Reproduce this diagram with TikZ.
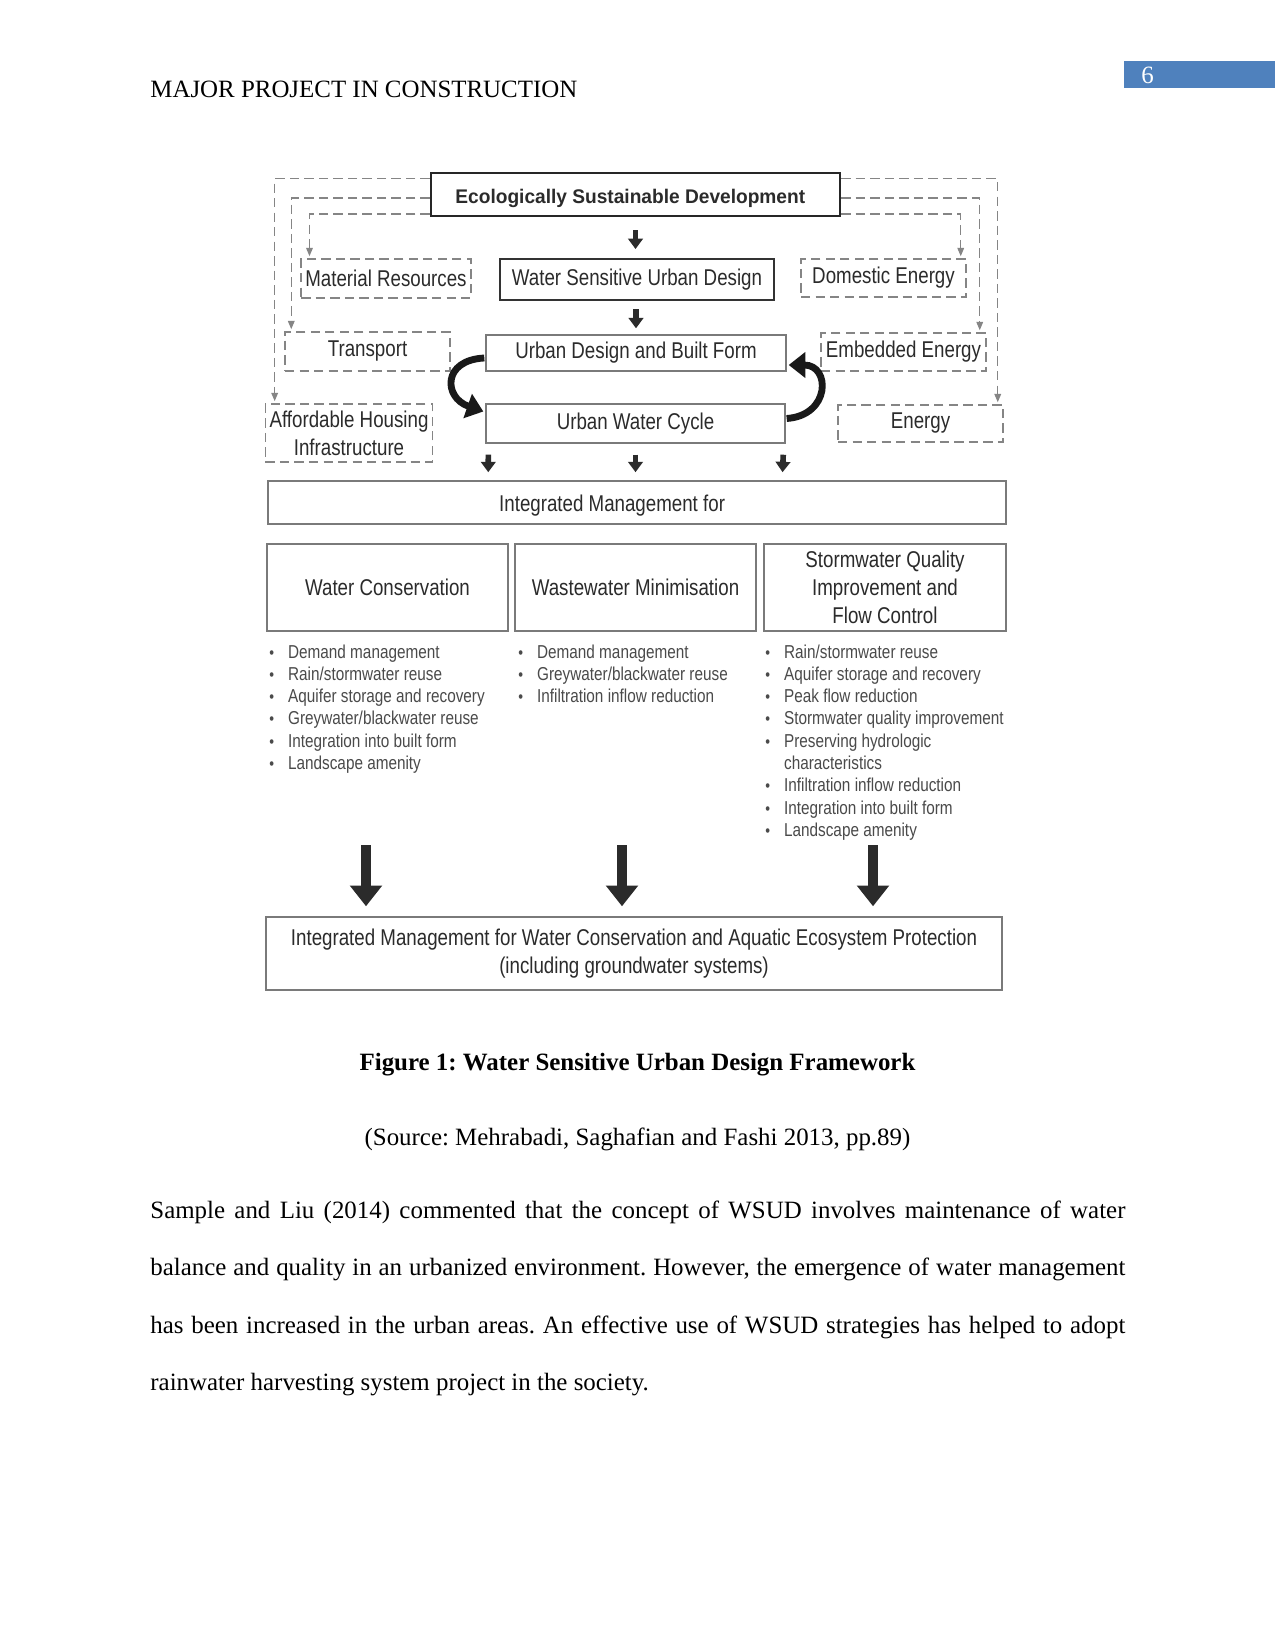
\documentclass[tikz,border=0pt]{standalone}
\usepackage{fontspec}
\setmainfont{Liberation Serif}
\newfontfamily\diagfont[FakeStretch=0.82]{Liberation Sans}
\newfontfamily\esdfont[FakeStretch=0.97]{Liberation Sans}
\usetikzlibrary{arrows.meta,calc}
\definecolor{hdrblue}{HTML}{4F81BD}
\definecolor{txt}{HTML}{2B2B2B}
\definecolor{txt2}{HTML}{4A4A4A}
\definecolor{edge}{HTML}{7A7A7A}
\definecolor{dashc}{HTML}{858585}
\newcommand{\bul}{{\fontsize{8}{8}\selectfont\textbullet}}

\begin{document}
\begin{tikzpicture}[
  x=0.4818pt, y=-0.4818pt,
  box/.style={draw=edge, line width=0.7pt, fill=white, align=center, inner sep=2pt, text=txt, font=\diagfont\fontsize{11}{13.5}\selectfont},
  dbox/.style={box, draw=dashc, dash pattern=on 4.5pt off 2.5pt},
  dline/.style={draw=dashc, line width=0.6pt, dash pattern=on 4.5pt off 2.5pt, -{Triangle[width=3.2pt,length=4pt]}, shorten >=1pt},
  smallarr/.style={draw=txt, line width=2.7pt, -{Triangle[width=7pt,length=5pt]}},
  bigarr/.style={draw=txt, line width=4.4pt, -{Triangle[width=15pt,length=10pt]}},
  cyclearr/.style={draw=black!90, line width=3.3pt, -{Triangle[width=12pt,length=8pt]}},
  blist/.style={anchor=north west, inner sep=0pt, text=txt2, font=\diagfont\fontsize{9}{10.75}\selectfont},
  page/.style={inner sep=0pt, font=\fontsize{12}{14}\selectfont},
]

\useasboundingbox[fill=white] (0,0) rectangle (1275,1650);

% page header
\node[page, anchor=base west] (hdr) at (150,98) {MAJOR PROJECT IN CONSTRUCTION};
\fill[hdrblue] (1124,61) rectangle (1275,88);
\node[page, anchor=base west, text=white] (pgno) at (1141,84) {6};

% top of the framework
\node[box, draw=black!85, line width=1.1pt, minimum width=197.1pt, minimum height=20.7pt, text height=10pt, text depth=1pt, font=\esdfont\bfseries\fontsize{9.5}{11}\selectfont] (esd) at (635.5,194.5) {\hspace*{-5pt}Ecologically Sustainable Development};
\node[box, draw=black!80, line width=1pt, minimum width=132pt, minimum height=19.75pt] (wsud) at (637,279.5) {Water Sensitive Urban Design};
\node[box, minimum width=144.5pt, minimum height=17.3pt] (udbf) at (636,353) {Urban Design and Built Form};
\node[box, minimum width=144pt, minimum height=18.8pt] (uwc) at (635.5,423.5) {Urban Water Cycle};

\node[dbox, minimum width=80pt, minimum height=18.8pt] (matres) at (386,278.5) {Material Resources};
\node[dbox, minimum width=79.5pt, minimum height=18.8pt] (transport) at (367.5,351.5) {Transport};
\node[dbox, minimum width=80pt, minimum height=28pt] (afford) at (349,433) {Affordable Housing\\Infrastructure};
\node[dbox, minimum width=79.5pt, minimum height=18.3pt] (domen) at (883.5,278) {Domestic Energy};
\node[dbox, minimum width=79.5pt, minimum height=18.3pt] (embed) at (903.5,352) {Embedded Energy};
\node[dbox, minimum width=79.5pt, minimum height=17.8pt] (energy) at (920.5,423.5) {Energy};

% integrated management
\node[box, minimum width=355.6pt, minimum height=20.7pt, text height=10.5pt, text depth=1.5pt] (imf) at (637,502.5) {\hspace*{-24pt}Integrated Management for};
\node[box, minimum width=116pt, minimum height=42pt] (wc) at (387.5,587.5) {Water Conservation};
\node[box, minimum width=116pt, minimum height=42pt] (wm) at (635.5,587.5) {Wastewater Minimisation};
\node[box, minimum width=116.6pt, minimum height=42pt] (sq) at (885,587.5) {Stormwater Quality\\Improvement and\\Flow Control};
\node[box, minimum width=354.6pt, minimum height=35.2pt] (final) at (634,953.5) {Integrated Management for Water Conservation and Aquatic Ecosystem Protection\\(including groundwater systems)};

\node[blist] (wclist) at (269,642) {\begin{tabular}{@{}p{9pt}@{}l@{}}
\bul & Demand management\\
\bul & Rain/stormwater reuse\\
\bul & Aquifer storage and recovery\\
\bul & Greywater/blackwater reuse\\
\bul & Integration into built form\\
\bul & Landscape amenity
\end{tabular}};
\node[blist] (wmlist) at (518,642) {\begin{tabular}{@{}p{9pt}@{}l@{}}
\bul & Demand management\\
\bul & Greywater/blackwater reuse\\
\bul & Infiltration inflow reduction
\end{tabular}};
\node[blist] (sqlist) at (765,642) {\begin{tabular}{@{}p{9pt}@{}l@{}}
\bul & Rain/stormwater reuse\\
\bul & Aquifer storage and recovery\\
\bul & Peak flow reduction\\
\bul & Stormwater quality improvement\\
\bul & Preserving hydrologic\\
 & characteristics\\
\bul & Infiltration inflow reduction\\
\bul & Integration into built form\\
\bul & Landscape amenity
\end{tabular}};

% dashed feeds from ESD
\draw[dline] ($(esd.north west)+(0,7)$) -| ($(afford.north west)+(10,0)$);
\draw[dline] ($(esd.west)+(0,3.5)$) -| ($(transport.north west)+(7,0)$);
\draw[dline] ($(esd.south west)+(0,-3)$) -| ($(matres.north west)+(9,0)$);
\draw[dline] ($(esd.north east)+(0,7)$) -| ($(energy.north east)+(-6,0)$);
\draw[dline] ($(esd.east)+(0,3.5)$) -| ($(embed.north east)+(-7,0)$);
\draw[dline] ($(esd.south east)+(0,-3)$) -| ($(domen.north east)+(-6,0)$);

% main chain
\draw[smallarr, shorten <=6.3pt, shorten >=4.3pt] (esd.south) -- (esd.south |- wsud.north);
\draw[smallarr, shorten <=3.9pt, shorten >=2.9pt] (wsud.south -| udbf.north) -- (udbf.north);
\draw[cyclearr] ($(udbf.west)+(-1,5)$) .. controls +(-42,2) and +(-40,-14) .. ($(uwc.west)+(-2,-12)$);
\draw[cyclearr] ($(uwc.east)+(1,-5)$) .. controls +(44,-3) and +(42,0) .. ($(udbf.east)+(2,12)$);
\draw[smallarr, shorten <=5.3pt, shorten >=3.9pt] ($(uwc.south west)+(3,0)$) -- ($(imf.north west)+(221,0)$);
\draw[smallarr, shorten <=5.3pt, shorten >=3.9pt] (uwc.south) -- (uwc.south |- imf.north);
\draw[smallarr, shorten <=5.3pt, shorten >=3.9pt] ($(uwc.south east)+(-2,0)$) -- ($(imf.north west)+(515,0)$);

% into the final box
\coordinate (d1) at (366,845);
\coordinate (d2) at (622,845);
\coordinate (d3) at (873,845);
\foreach \d in {d1,d2,d3}
  \draw[bigarr, shorten >=4.8pt] (\d) -- (\d |- final.north);

% caption and text
\node[page, anchor=base, font=\bfseries\fontsize{12}{14}\selectfont] (cap) at (637.5,1070) {\frenchspacing Figure 1: Water Sensitive Urban Design Framework};
\node[page, anchor=base] (src) at (637.5,1145) {\frenchspacing (Source: Mehrabadi, Saghafian and Fashi 2013, pp.89)};
\node[page, anchor=base west] (p1) at (150,1218) {\frenchspacing\makebox[6.5in][s]{Sample and Liu (2014) commented that the concept of WSUD involves maintenance of water}};
\node[page, anchor=base west] (p2) at (150,1275) {\frenchspacing\makebox[6.5in][s]{balance and quality in an urbanized environment. However, the emergence of water management}};
\node[page, anchor=base west] (p3) at (150,1333) {\frenchspacing\makebox[6.5in][s]{has been increased in the urban areas. An effective use of WSUD strategies has helped to adopt}};
\node[page, anchor=base west] (p4) at (150,1390) {\frenchspacing rainwater harvesting system project in the society.};

\end{tikzpicture}
\end{document}
